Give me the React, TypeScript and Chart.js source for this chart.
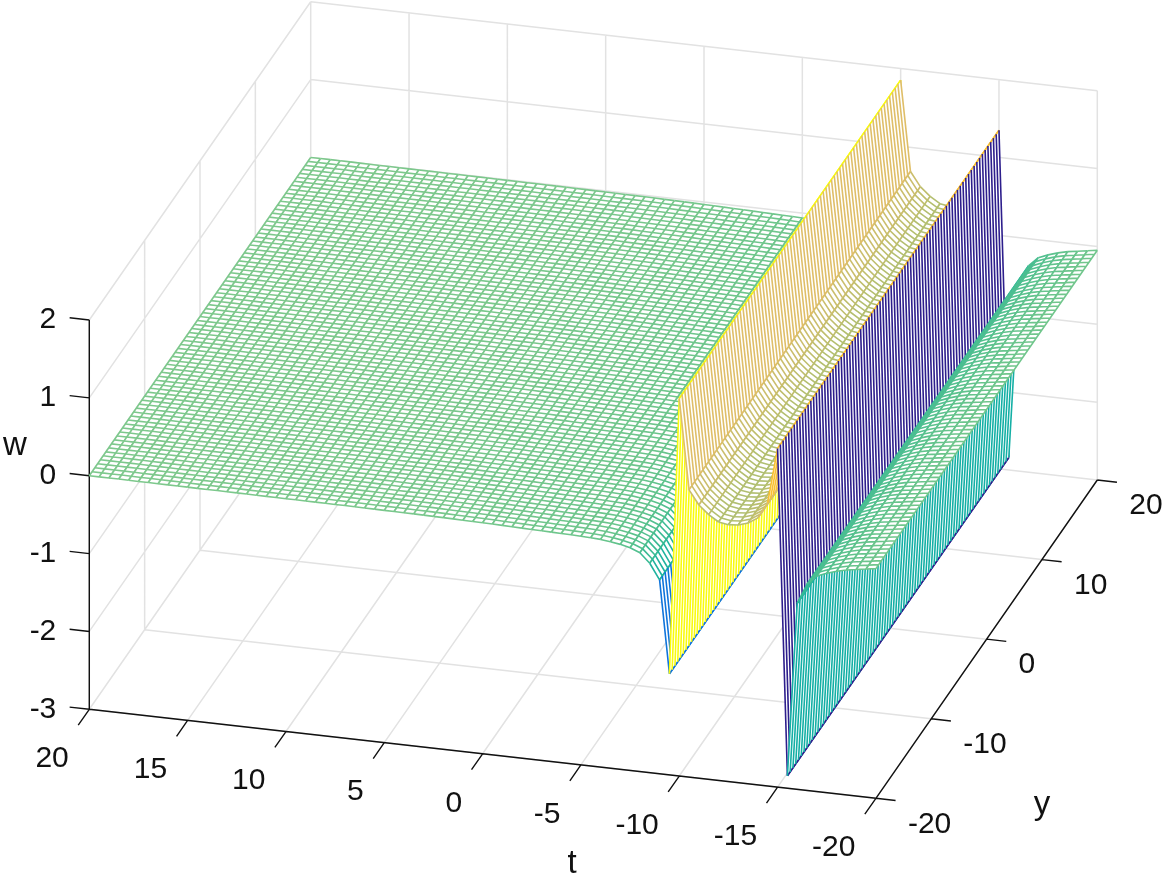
import React, { useEffect, useRef } from "react";
import { Chart, registerables } from "chart.js";

Chart.register(...registerables);

const W = 1162;
const H = 874;

// mesh nodes
const tNodes = [
  20, 19.5, 19, 18.5, 18, 17.5, 17, 16.5, 16, 15.5,
  15, 14.5, 14, 13.5, 13, 12.5, 12, 11.5, 11, 10.5,
  10, 9.5, 9, 8.5, 8, 7.5, 7, 6.5, 6, 5.5,
  5, 4.5, 4, 3.5, 3, 2.5, 2, 1.5, 1, 0.5,
  0, -0.5, -1, -1.5, -2, -2.5, -3, -3.5, -4, -4.5,
  -5, -5.5, -6, -6.5, -7, -7.5, -8, -8.5, -9, -9.5,
  -10, -10.5, -11, -11.5, -12, -12.5, -13, -13.5, -14, -14.5,
  -15, -15.5, -16, -16.5, -17, -17.5, -18, -18.5, -19, -19.5,
  -20,
];
const yNodes = [
  -20, -19.5, -19, -18.5, -18, -17.5, -17, -16.5, -16, -15.5,
  -15, -14.5, -14, -13.5, -13, -12.5, -12, -11.5, -11, -10.5,
  -10, -9.5, -9, -8.5, -8, -7.5, -7, -6.5, -6, -5.5,
  -5, -4.5, -4, -3.5, -3, -2.5, -2, -1.5, -1, -0.5,
  0, 0.5, 1, 1.5, 2, 2.5, 3, 3.5, 4, 4.5,
  5, 5.5, 6, 6.5, 7, 7.5, 8, 8.5, 9, 9.5,
  10, 10.5, 11, 11.5, 12, 12.5, 13, 13.5, 14, 14.5,
  15, 15.5, 16, 16.5, 17, 17.5, 18, 18.5, 19, 19.5,
  20,
];
// w for each t node (the surface does not change along y)
const wValues = [
  0, 0, 0, 0, 0, -0.002, -0.002, -0.003, -0.003, -0.004,
  -0.004, -0.005, -0.005, -0.005, -0.006, -0.006, -0.007, -0.007, -0.008, -0.008,
  -0.009, -0.009, -0.01, -0.01, -0.011, -0.012, -0.012, -0.013, -0.014, -0.015,
  -0.016, -0.017, -0.018, -0.019, -0.02, -0.022, -0.024, -0.026, -0.028, -0.03,
  -0.033, -0.035, -0.038, -0.041, -0.044, -0.047, -0.05, -0.053, -0.056, -0.059,
  -0.063, -0.068, -0.075, -0.09, -0.11, -0.14, -0.19, -0.31, -0.51, -1.7,
  1.85, 0.69, 0.51, 0.4, 0.32, 0.3, 0.31, 0.35, 0.43, 0.64,
  1.35, -2.84, -0.61, -0.35, -0.23, -0.18, -0.14, -0.11, -0.09, -0.07,
  -0.05,
];

// axis ticks
const tTicks = [20, 15, 10, 5, 0, -5, -10, -15, -20];
const yTicks = [-20, -10, 0, 10, 20];
const wTicks = [-3, -2, -1, 0, 1, 2];

const tMax = 20, tMin = -20, yMin = -20, yMax = 20, wMin = -3, wMax = 2;

// colour map stops (fraction of the w range -> rgb)
const cmapStops = [0, 0.24, 0.475, 0.53, 0.58, 0.605, 0.68, 0.75, 0.89, 1];
const cmapR = [45, 15, 20, 50, 95, 125, 185, 222, 250, 249];
const cmapG = [30, 115, 175, 185, 195, 200, 190, 190, 190, 251];
const cmapB = [140, 220, 165, 150, 140, 140, 110, 105, 50, 14];
const cLow = -2.84, cHigh = 1.85;

const GRID = "#e2e2e2";
const AXIS = "#111111";
const FONT = '"Liberation Sans", Arial, sans-serif';
const MESH_WIDTH = 1.6;

// orthographic view of the box
function px(t: number, y: number) {
  return 89.3 + (tMax - t) * 19.665 + (y - yMin) * 5.535;
}
function py(t: number, y: number, w: number) {
  return 709.3 + (tMax - t) * 2.225 - (y - yMin) * 7.9575 - (w - wMin) * 77.86;
}
const P = (t: number, y: number, w: number) => ({ x: px(t, y), y: py(t, y, w) });
const GAP = { x: NaN, y: NaN };

function colour(w: number) {
  const f = Math.min(1, Math.max(0, (w - cLow) / (cHigh - cLow)));
  let i = 0;
  while (i < cmapStops.length - 2 && f > cmapStops[i + 1]) i++;
  const k = (f - cmapStops[i]) / (cmapStops[i + 1] - cmapStops[i]);
  const mix = (a: number[]) => Math.round(a[i] + (a[i + 1] - a[i]) * k);
  return `rgb(${mix(cmapR)},${mix(cmapG)},${mix(cmapB)})`;
}

function lineSet(data: any[], color: string, width: number) {
  return {
    data,
    showLine: true,
    borderColor: color,
    borderWidth: width,
    pointRadius: 0,
    pointHoverRadius: 0,
    tension: 0,
    spanGaps: false,
    fill: false,
  };
}

function buildDatasets() {
  const sets: any[] = [];

  // box grid
  const grid: any[] = [];
  const seg = (a: any, b: any) => grid.push(a, b, GAP);
  for (const t of tTicks) {
    seg(P(t, yMin, wMin), P(t, yMax, wMin));
    seg(P(t, yMax, wMin), P(t, yMax, wMax));
  }
  for (const y of yTicks) {
    seg(P(tMin, y, wMin), P(tMax, y, wMin));
    seg(P(tMax, y, wMin), P(tMax, y, wMax));
  }
  for (const w of wTicks) {
    seg(P(tMax, yMin, w), P(tMax, yMax, w));
    seg(P(tMax, yMax, w), P(tMin, yMax, w));
  }
  sets.push(lineSet(grid, GRID, 1.5));

  // axes and tick marks
  const axes: any[] = [];
  const aseg = (a: any, b: any) => axes.push(a, b, GAP);
  aseg(P(tMax, yMin, wMin), P(tMax, yMin, wMax));
  aseg(P(tMax, yMin, wMin), P(tMin, yMin, wMin));
  aseg(P(tMin, yMin, wMin), P(tMin, yMax, wMin));
  for (const w of wTicks) aseg(P(tMax, yMin, w), P(tMax + 1, yMin, w));
  for (const t of tTicks) aseg(P(t, yMin, wMin), P(t, yMin - 2, wMin));
  for (const y of yTicks) aseg(P(tMin, y, wMin), P(tMin - 1, y, wMin));
  sets.push(lineSet(axes, AXIS, 1.4));

  // mesh strips, farthest (t = 20) first
  const y0 = yNodes[0];
  const yN = yNodes[yNodes.length - 1];
  for (let i = 0; i < tNodes.length - 1; i++) {
    const t0 = tNodes[i], t1 = tNodes[i + 1];
    const w0 = wValues[i], w1 = wValues[i + 1];
    const A = P(t0, y0, w0), B = P(t1, y0, w1), C = P(t1, yN, w1), D = P(t0, yN, w0);
    sets.push({
      data: [A, B, C, D, A, C],
      showLine: true,
      borderWidth: 0,
      borderColor: "rgba(255,255,255,0)",
      backgroundColor: "#ffffff",
      pointRadius: 0,
      pointHoverRadius: 0,
      tension: 0,
      fill: "shape",
    });
    sets.push(lineSet([A, D], colour(w0), MESH_WIDTH));
    const strip: any[] = [];
    for (const y of yNodes) strip.push(P(t0, y, w0), P(t1, y, w1), GAP);
    strip.push(B, C);
    sets.push(lineSet(strip, colour(w1), MESH_WIDTH));
  }
  // the library paints the first dataset on top
  return sets.reverse();
}

const labelsPlugin = {
  id: "boxLabels",
  afterDraw(chart: any) {
    const { ctx, scales } = chart;
    const X = (v: number) => scales.x.getPixelForValue(v);
    const Yp = (v: number) => scales.y.getPixelForValue(v);
    ctx.save();
    ctx.fillStyle = "#111111";
    ctx.font = `30px ${FONT}`;
    ctx.textBaseline = "middle";
    ctx.textAlign = "right";
    for (const w of wTicks) ctx.fillText(String(w), X(px(tMax, yMin)) - 33, Yp(py(tMax, yMin, w)));
    for (const t of tTicks) ctx.fillText(String(t), X(px(t, yMin)) - 20.5, Yp(py(t, yMin, wMin)) + 49.5);
    ctx.textAlign = "left";
    for (const y of yTicks) ctx.fillText(String(y), X(px(tMin, y)) + 32, Yp(py(tMin, y, wMin)) + 26);
    ctx.font = `33px ${FONT}`;
    ctx.textAlign = "center";
    ctx.textBaseline = "alphabetic";
    ctx.fillText("w", X(15), Yp(455));
    ctx.fillText("t", X(572), Yp(873));
    ctx.fillText("y", X(1042), Yp(814));
    ctx.restore();
  },
};

export default function App() {
  const ref = useRef<HTMLCanvasElement | null>(null);
  useEffect(() => {
    if (!ref.current) return;
    const chart = new Chart(ref.current, {
      type: "scatter",
      data: { datasets: buildDatasets() },
      plugins: [labelsPlugin],
      options: {
        animation: false,
        responsive: false,
        events: [],
        layout: { padding: 0 },
        plugins: { legend: { display: false }, tooltip: { enabled: false }, title: { display: false } },
        scales: {
          x: { type: "linear", min: 0, max: W, display: false },
          y: { type: "linear", min: 0, max: H, reverse: true, display: false },
        },
      },
    } as any);
    return () => chart.destroy();
  }, []);
  return (
    <div style={{ position: "fixed", left: 0, top: 0, width: W, height: H, background: "#fff", overflow: "hidden" }}>
      <canvas ref={ref} width={W} height={H} style={{ display: "block", width: W, height: H }} />
    </div>
  );
}
